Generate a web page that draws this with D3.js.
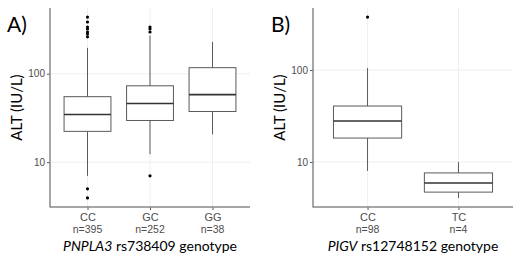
<!DOCTYPE html>
<html>
<head>
<meta charset="utf-8">
<script src="https://cdn.jsdelivr.net/npm/d3@7"></script>
<style>
  body { margin: 0; background: #fff; }
  .tick-label { font-family: "Liberation Sans", Arial, sans-serif; fill: #4d4d4d; }
  .title { font-family: Lato, "Open Sans", sans-serif; fill: #000; }
</style>
</head>
<body>
<div id="chart"></div>
<script>
// Panel A: PNPLA3 rs738409
var catsA = ["CC", "GC", "GG"];
var countsA = ["n=395", "n=252", "n=38"];
// [whisker low, Q1, median, Q3, whisker high]
var boxesA = [
  [7.0, 22.3, 34.6, 55, 196],
  [12.3, 29.6, 46, 73, 270],
  [20.6, 37.4, 58, 117, 229]
];
var outliersA = [
  [437, 384, 337, 320, 296, 281, 261, 5.0, 3.94],
  [337, 320, 296, 7.0],
  []
];

// Panel B: PIGV rs12748152
var catsB = ["CC", "TC"];
var countsB = ["n=98", "n=4"];
var boxesB = [
  [8.0, 18.2, 27.9, 40.6, 105],
  [4.06, 4.7, 5.9, 7.6, 10]
];
var outliersB = [
  [377],
  []
];

var yTicks = [10, 100];

var svg = d3.select("#chart").append("svg")
  .attr("width", 520)
  .attr("height", 262);

function panel(opts) {
  var cats = opts.cats, boxes = opts.boxes, outliers = opts.outliers;
  var left = opts.left, right = opts.left + 200, top = 8, bottom = 207;

  // log scale with 5% expansion like ggplot
  var all = [];
  boxes.forEach(function (b) { all = all.concat(b); });
  outliers.forEach(function (o) { all = all.concat(o); });
  var ext = d3.extent(all).map(Math.log10);
  var pad = (ext[1] - ext[0]) * 0.05;
  var y = d3.scaleLog()
    .domain([Math.pow(10, ext[0] - pad), Math.pow(10, ext[1] + pad)])
    .range([bottom, top]);

  var x = d3.scalePoint().domain(cats).range([left, right]).padding(0.6);
  var bw = x.step() * 0.75;

  var g = svg.append("g");

  // grid
  g.selectAll(".hgrid").data(yTicks).enter().append("line")
    .attr("x1", left).attr("x2", right)
    .attr("y1", function (d) { return y(d); })
    .attr("y2", function (d) { return y(d); })
    .attr("stroke", "#ebebeb").attr("stroke-width", 0.8);
  g.selectAll(".vgrid").data(cats).enter().append("line")
    .attr("x1", function (d) { return x(d); })
    .attr("x2", function (d) { return x(d); })
    .attr("y1", top).attr("y2", bottom)
    .attr("stroke", "#ebebeb").attr("stroke-width", 0.8);

  // boxes
  var bx = g.selectAll(".box").data(boxes).enter().append("g");
  bx.append("line")
    .attr("x1", function (d, i) { return x(cats[i]); })
    .attr("x2", function (d, i) { return x(cats[i]); })
    .attr("y1", function (d) { return y(d[0]); })
    .attr("y2", function (d) { return y(d[4]); })
    .attr("stroke", "#5a5a5a").attr("stroke-width", 1);
  bx.append("rect")
    .attr("x", function (d, i) { return x(cats[i]) - bw / 2; })
    .attr("width", bw)
    .attr("y", function (d) { return y(d[3]); })
    .attr("height", function (d) { return y(d[1]) - y(d[3]); })
    .attr("fill", "#fff").attr("stroke", "#5a5a5a").attr("stroke-width", 1);
  bx.append("line")
    .attr("x1", function (d, i) { return x(cats[i]) - bw / 2; })
    .attr("x2", function (d, i) { return x(cats[i]) + bw / 2; })
    .attr("y1", function (d) { return y(d[2]); })
    .attr("y2", function (d) { return y(d[2]); })
    .attr("stroke", "#333").attr("stroke-width", 1.6);

  // outliers
  outliers.forEach(function (o, i) {
    g.selectAll(".out" + i).data(o).enter().append("circle")
      .attr("cx", x(cats[i]))
      .attr("cy", function (d) { return y(d); })
      .attr("r", 1.6)
      .attr("fill", "#000");
  });

  // axes
  var yAxis = g.append("g")
    .attr("transform", "translate(" + left + ",0)")
    .call(d3.axisLeft(y).tickValues(yTicks).tickFormat(d3.format("d")).tickSize(3).tickPadding(2));
  yAxis.select(".domain").remove();
  yAxis.selectAll("line").attr("stroke", "#555");
  yAxis.selectAll("text").attr("class", "tick-label").style("font-size", "10px");

  var xAxis = g.append("g")
    .attr("transform", "translate(0," + bottom + ")")
    .call(d3.axisBottom(x).tickSize(3).tickPadding(3));
  xAxis.select(".domain").remove();
  xAxis.selectAll("line").attr("stroke", "#555");
  xAxis.selectAll("text").attr("class", "tick-label").style("font-size", "11px");

  g.selectAll(".count").data(opts.counts).enter().append("text")
    .attr("class", "tick-label")
    .attr("x", function (d, i) { return x(cats[i]); })
    .attr("y", 233)
    .attr("text-anchor", "middle")
    .style("font-size", "10.5px")
    .text(function (d) { return d; });

  g.append("line").attr("x1", left).attr("x2", left).attr("y1", top).attr("y2", bottom + 0.5)
    .attr("stroke", "#888").attr("stroke-width", 1.5);
  g.append("line").attr("x1", left).attr("x2", right).attr("y1", bottom).attr("y2", bottom)
    .attr("stroke", "#888").attr("stroke-width", 1.5);

  // titles
  g.append("text").attr("class", "title")
    .attr("transform", "translate(" + (left - 28) + "," + ((top + bottom) / 2) + ") rotate(-90)")
    .attr("text-anchor", "middle")
    .style("font-size", "15px")
    .text("ALT (IU/L)");

  var xt = g.append("text").attr("class", "title")
    .attr("x", (left + right) / 2).attr("y", 251)
    .attr("text-anchor", "middle")
    .style("font-size", "14px");
  xt.append("tspan").style("font-style", "italic").text(opts.gene);
  xt.append("tspan").text(" " + opts.snp + " genotype");

  g.append("text").attr("class", "title")
    .attr("x", opts.tagX).attr("y", 32)
    .style("font-size", "21px")
    .text(opts.tag);
}

panel({ cats: catsA, counts: countsA, boxes: boxesA, outliers: outliersA,
  left: 50, gene: "PNPLA3", snp: "rs738409", tag: "A)", tagX: 7 });
panel({ cats: catsB, counts: countsB, boxes: boxesB, outliers: outliersB,
  left: 313, gene: "PIGV", snp: "rs12748152", tag: "B)", tagX: 271 });
</script>
</body>
</html>
